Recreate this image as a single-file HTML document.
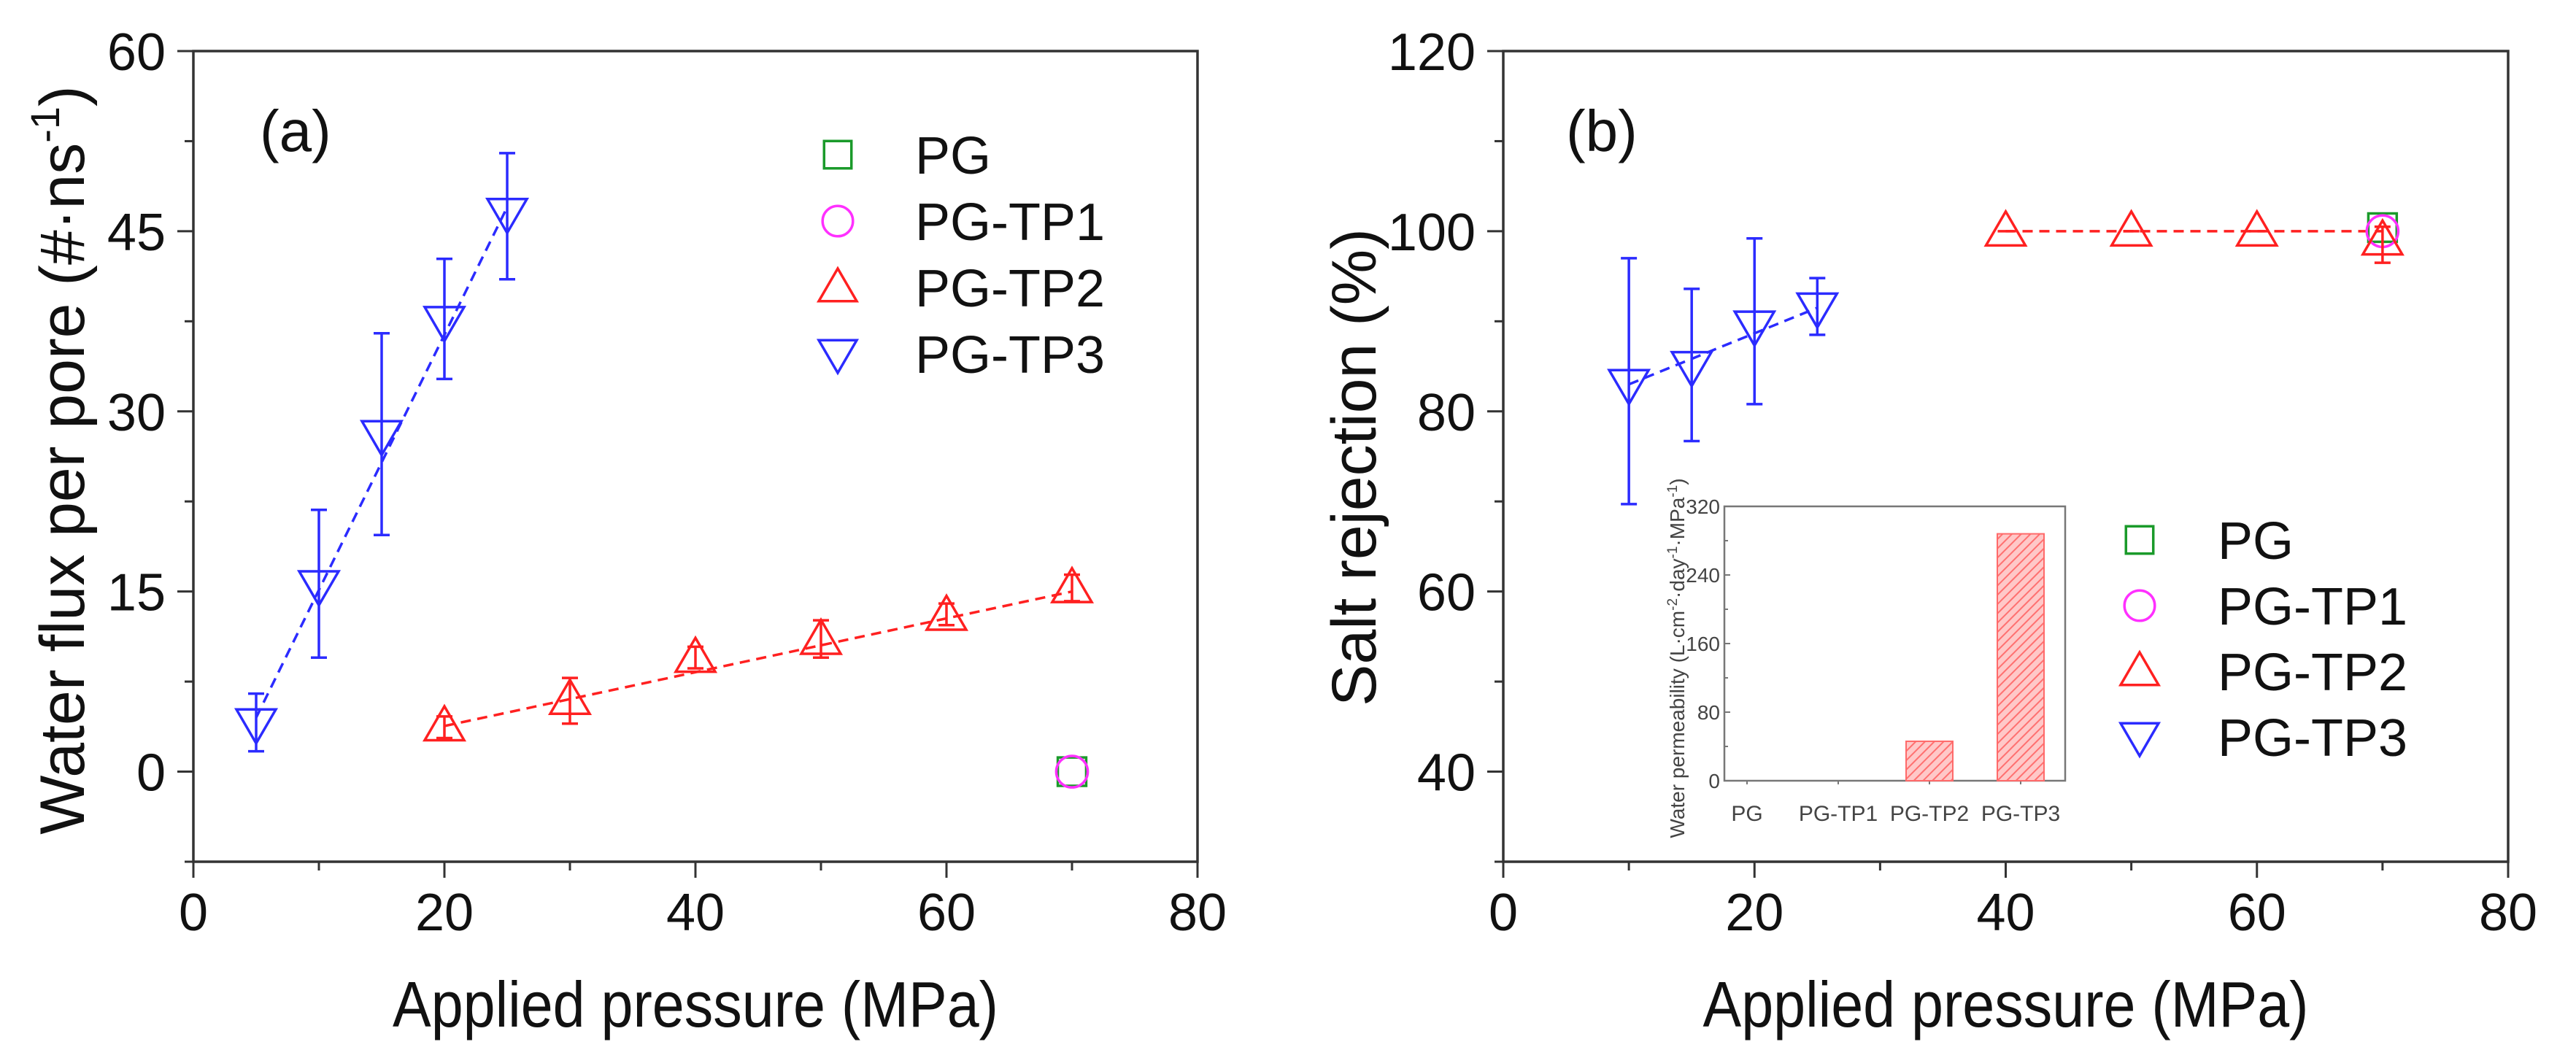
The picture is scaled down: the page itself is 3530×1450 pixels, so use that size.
<!DOCTYPE html>
<html><head><meta charset="utf-8"><style>
html,body{margin:0;padding:0;background:#fff;}
svg{display:block;font-family:"Liberation Sans",Arial,sans-serif;}
</style></head><body>
<svg id="fig" width="3530" height="1450" viewBox="0 0 3530 1450" xmlns="http://www.w3.org/2000/svg">
<defs>
<pattern id="hatch" patternUnits="userSpaceOnUse" width="9" height="9" patternTransform="rotate(45)">
<rect width="9" height="9" fill="#ffc8c8"/><line x1="0" y1="0" x2="0" y2="9" stroke="#ff7070" stroke-width="4"/>
</pattern>
</defs>
</svg>
<script>
// ----- Panel (a) data -----
const aTP3x = [5, 10, 15, 20, 25];
const aTP3y = [4, 15.5, 28, 37.5, 46.5];
const aTP3hi = [6.5, 21.8, 36.5, 42.7, 51.5];
const aTP3lo = [1.7, 9.5, 19.7, 32.7, 41];
const aTP2x = [20, 30, 40, 50, 60, 70];
const aTP2y = [3.8, 6, 9.5, 11, 13, 15.3];
const aTP2hi = [4.6, 7.8, 10.4, 12.6, 14, 16.4];
const aTP2lo = [2.8, 4, 8.6, 9.5, 12.2, 14.2];
const aPGx = [70], aPGy = [0];
const aTP1x = [70], aTP1y = [0];
const aFitTP3 = [[5, 4.5], [25, 47]];
const aFitTP2 = [[20, 3.8], [70, 15]];
const aXTicks = [0, 20, 40, 60, 80];
const aYTicks = [0, 15, 30, 45, 60];
// ----- Panel (b) data -----
const bTP3x = [10, 15, 20, 25];
const bTP3y = [83, 85, 89.5, 91.5];
const bTP3hi = [97, 93.6, 99.2, 94.8];
const bTP3lo = [69.7, 76.7, 80.8, 88.5];
const bTP2x = [40, 50, 60, 70];
const bTP2y = [100, 100, 100, 99];
const bTP2hi = [100, 100, 100, 100.5];
const bTP2lo = [100, 100, 100, 96.5];
const bPGx = [70], bPGy = [100.4];
const bTP1x = [70], bTP1y = [100];
const bFitTP3 = [[10, 83], [25, 91.5]];
const bFitTP2 = [[40, 100], [70, 100]];
const bXTicks = [0, 20, 40, 60, 80];
const bYTicks = [40, 60, 80, 100, 120];
// ----- Inset data -----
const insetCats = ["PG", "PG-TP1", "PG-TP2", "PG-TP3"];
const insetVals = [0, 0, 46, 288];
const insetYTicks = [0, 80, 160, 240, 320];

const svg = document.getElementById('fig');
const NS = 'http://www.w3.org/2000/svg';
function el(tag, attrs, parent) {
  const e = document.createElementNS(NS, tag);
  for (const k in attrs) e.setAttribute(k, attrs[k]);
  (parent || svg).appendChild(e);
  return e;
}
function mkScale(d0, d1, r0, r1) { return v => r0 + (v - d0) * (r1 - r0) / (d1 - d0); }

const BLUE = '#2b2bff', RED = '#ff2020', GREEN = '#1a9a2a', MAG = '#ff30ff';

function marker(g, type, cx, cy, color, s) {
  let m;
  if (type === 'up') m = el('polygon', {points: `${cx},${cy - s} ${cx - s},${cy + s * 0.72} ${cx + s},${cy + s * 0.72}`}, g);
  else if (type === 'down') m = el('polygon', {points: `${cx},${cy + s} ${cx - s},${cy - s * 0.72} ${cx + s},${cy - s * 0.72}`}, g);
  else if (type === 'sq') m = el('rect', {x: cx - s * 0.72, y: cy - s * 0.72, width: s * 1.44, height: s * 1.44}, g);
  else m = el('ellipse', {cx: cx, cy: cy, rx: s * 0.8, ry: s * 0.8}, g);
  m.setAttribute('fill', 'none');
  m.setAttribute('stroke', color);
  m.setAttribute('stroke-width', 3.5);
  
  
  return m;
}

function panel(cfg) {
  const g = el('g', {});
  
  
  const X = mkScale(cfg.xd[0], cfg.xd[1], cfg.L, cfg.R);
  const Y = mkScale(cfg.yd[0], cfg.yd[1], cfg.B, cfg.T);
  const frame = el('rect', {x: cfg.L, y: cfg.T, width: cfg.R - cfg.L, height: cfg.B - cfg.T, fill: 'none', stroke: '#333', 'stroke-width': 3.5}, g);
  
  
  for (let v = cfg.xd[0]; v <= cfg.xd[1] + 1e-9; v += cfg.xMinor) {
    const major = cfg.xTicks.includes(v);
    const t = el('line', {x1: X(v), x2: X(v), y1: cfg.B, y2: cfg.B + (major ? 22 : 12), stroke: '#333', 'stroke-width': 3}, g);
    
    
  }
  cfg.xTicks.forEach(v => {
    const t = el('text', {x: X(v), y: 1275, 'font-size': 72, 'text-anchor': 'middle', fill: '#111'}, g);
    t.textContent = v;
    
    
  });
  for (let v = cfg.yMinorStart; v <= cfg.yd[1] + 1e-9; v += cfg.yMinor) {
    const major = cfg.yTicks.includes(v);
    const t = el('line', {x1: cfg.L, x2: cfg.L - (major ? 22 : 12), y1: Y(v), y2: Y(v), stroke: '#333', 'stroke-width': 3}, g);
    
    
  }
  cfg.yTicks.forEach(v => {
    const t = el('text', {x: cfg.L - 38, y: Y(v) + 26, 'font-size': 72, 'text-anchor': 'end', fill: '#111'}, g);
    t.textContent = v;
    
    
  });
  const xt = el('text', {x: (cfg.L + cfg.R) / 2 - 415, y: 1407, 'font-size': 88, textLength: 830, lengthAdjust: 'spacingAndGlyphs', fill: '#111'}, g);
  xt.textContent = 'Applied pressure (MPa)';
  
  
  const yt = el('text', {x: 0, y: 0, 'font-size': 86, 'text-anchor': 'middle', fill: '#111', transform: `translate(${cfg.yTitleX},${(cfg.T + cfg.B) / 2 + cfg.yTitleDy}) rotate(-90)`}, g);
  yt.innerHTML = cfg.yTitle;
  
  
  const lab = el('text', {x: cfg.labX, y: cfg.labY, 'font-size': 80, fill: '#111'}, g);
  lab.textContent = cfg.label;
  
  
  [[cfg.fit3, BLUE], [cfg.fit2, RED]].forEach(([f, c]) => {
    const l = el('line', {x1: X(f[0][0]), y1: Y(f[0][1]), x2: X(f[1][0]), y2: Y(f[1][1]), stroke: c, 'stroke-width': 3.5, 'stroke-dasharray': '14 9'}, g);
    
    
  });
  function series(xs, ys, his, los, type, color, name) {
    const sg = el('g', {}, g);
    
    
    xs.forEach((x, i) => {
      if (his) {
        const e = el('path', {d: `M${X(x)},${Y(los[i])}V${Y(his[i])}M${X(x) - 11},${Y(his[i])}h22M${X(x) - 11},${Y(los[i])}h22`, stroke: color, 'stroke-width': 3.5, fill: 'none'}, sg);
        
        
      }
      marker(sg, type, X(x), Y(ys[i]), color, 27);
    });
  }
  series(cfg.pg[0], cfg.pg[1], null, null, 'sq', GREEN, 'series-pg');
  series(cfg.tp1[0], cfg.tp1[1], null, null, 'circ', MAG, 'series-pg-tp1');
  series(cfg.tp2[0], cfg.tp2[1], cfg.tp2[2], cfg.tp2[3], 'up', RED, 'series-pg-tp2');
  series(cfg.tp3[0], cfg.tp3[1], cfg.tp3[2], cfg.tp3[3], 'down', BLUE, 'series-pg-tp3');
  const lg = el('g', {}, g);
  
  
  const items = [['sq', GREEN, 'PG'], ['circ', MAG, 'PG-TP1'], ['up', RED, 'PG-TP2'], ['down', BLUE, 'PG-TP3']];
  items.forEach((it, i) => {
    const yy = cfg.legY + i * cfg.legDy;
    marker(lg, it[0], cfg.legX, yy, it[1], 26);
    const t = el('text', {x: cfg.legTX, y: yy + 26, 'font-size': 72, fill: '#111'}, lg);
    t.textContent = it[2];
    
    
  });
  return g;
}

panel({name: 'panel-a', L: 265, R: 1641, T: 70, B: 1181, xd: [0, 80], yd: [-7.5, 60],
  xTicks: aXTicks, yTicks: aYTicks, xMinor: 10, yMinor: 7.5, yMinorStart: -7.5,
  yTitle: 'Water flux per pore (#·ns<tspan dy="-34" font-size="56">-1</tspan><tspan dy="34">)</tspan>',
  yTitleX: 115, yTitleDy: 5, label: '(a)', labX: 356, labY: 207,
  fit3: aFitTP3, fit2: aFitTP2,
  pg: [aPGx, aPGy], tp1: [aTP1x, aTP1y], tp2: [aTP2x, aTP2y, aTP2hi, aTP2lo], tp3: [aTP3x, aTP3y, aTP3hi, aTP3lo],
  legX: 1148, legTX: 1254, legY: 212, legDy: 91});

panel({name: 'panel-b', L: 2060, R: 3437, T: 70, B: 1181, xd: [0, 80], yd: [30, 120],
  xTicks: bXTicks, yTicks: bYTicks, xMinor: 10, yMinor: 10, yMinorStart: 30,
  yTitle: 'Salt rejection (%)', yTitleX: 1885, yTitleDy: 15, label: '(b)', labX: 2146, labY: 207,
  fit3: bFitTP3, fit2: bFitTP2,
  pg: [bPGx, bPGy], tp1: [bTP1x, bTP1y], tp2: [bTP2x, bTP2y, bTP2hi, bTP2lo], tp3: [bTP3x, bTP3y, bTP3hi, bTP3lo],
  legX: 2932, legTX: 3039, legY: 740, legDy: 90});

(function () {
  const L = 2363, R = 2830, T = 694, B = 1070;
  const g = el('g', {});
  
  
  const bg = el('rect', {x: L, y: T, width: R - L, height: B - T, fill: '#fff', stroke: '#777', 'stroke-width': 2.5}, g);
  
  
  const Y = mkScale(0, 320, B, T);
  for (let v = 0; v <= 320; v += 40) {
    const t = el('line', {x1: L, x2: L + (v % 80 === 0 ? 8 : 5), y1: Y(v), y2: Y(v), stroke: '#777', 'stroke-width': 2}, g);
    
    
  }
  insetYTicks.forEach(v => {
    const t = el('text', {x: L - 6, y: Y(v) + 10, 'font-size': 28, 'text-anchor': 'end', fill: '#444'}, g);
    t.textContent = v;
    
    
  });
  insetCats.forEach((c, i) => {
    const cx = L + 31 + i * 125;
    const tk = el('line', {x1: cx, x2: cx, y1: B, y2: B + 5, stroke: '#777', 'stroke-width': 2}, g);
    
    
    const t = el('text', {x: cx, y: B + 55, 'font-size': 30, 'text-anchor': 'middle', fill: '#444'}, g);
    t.textContent = c;
    
    
    if (insetVals[i] > 0) {
      const b = el('rect', {x: cx - 32, y: Y(insetVals[i]), width: 64, height: B - Y(insetVals[i]), fill: 'url(#hatch)', stroke: '#ff6a6a', 'stroke-width': 2}, g);
      
      
    }
  });
  const yt = el('text', {x: 0, y: 0, 'font-size': 28, 'text-anchor': 'middle', fill: '#444', transform: `translate(${L - 55},${(T + B) / 2 + 20}) rotate(-90)`}, g);
  yt.innerHTML = 'Water permeability (L·cm<tspan dy="-10" font-size="19">-2</tspan><tspan dy="10">·day</tspan><tspan dy="-10" font-size="19">-1</tspan><tspan dy="10">·MPa</tspan><tspan dy="-10" font-size="19">-1</tspan><tspan dy="10">)</tspan>';
  
  
})();
</script>
</body></html>
